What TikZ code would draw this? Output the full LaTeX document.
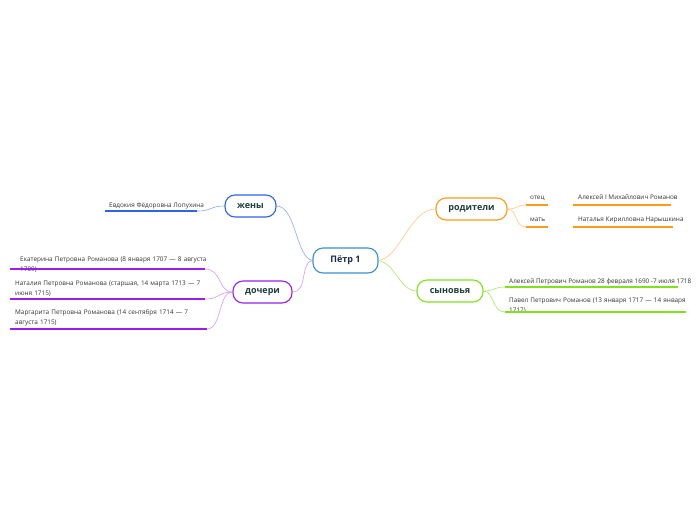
\documentclass[tikz,border=0pt]{standalone}
\usepackage{fontspec}
\setmainfont{Open Sans}
\definecolor{cblue}{HTML}{3A8ED8}
\definecolor{wblue}{HTML}{2E63EC}
\definecolor{porange}{HTML}{FF9A1A}
\definecolor{sgreen}{HTML}{7FE21C}
\definecolor{dpurple}{HTML}{9A1FEF}
\definecolor{ntext}{HTML}{1E3F3C}
\definecolor{ctext}{HTML}{1C2B4A}
\definecolor{ltext}{HTML}{333333}
\begin{document}
\begin{tikzpicture}[x=1pt,y=-1pt,
  topic/.style={draw=#1,line width=1.1pt,rounded corners=10pt,fill=white,
    font=\fontsize{9}{10}\selectfont\bfseries,text=ntext,inner sep=0pt},
  leaf/.style={font=\fontsize{6.4}{9.6}\selectfont,text=ltext,inner sep=0pt,anchor=base west,align=left},
  uline/.style={draw=#1,line width=1.6pt},
  conn/.style={draw=#1,line width=0.6pt}]
\useasboundingbox (0,0) rectangle (696,520);
% central
\node[topic=cblue,text=ctext,minimum width=65pt,minimum height=25pt] (root) at (345.5,260.5) {Пётр 1};
% main topics
\node[topic=wblue,minimum width=51pt,minimum height=22pt] (zheny) at (250.5,206) {жены};
\node[topic=porange,minimum width=71pt,minimum height=22pt] (rod) at (471.5,209) {родители};
\node[topic=sgreen,minimum width=66pt,minimum height=22pt] (syn) at (450,291) {сыновья};
\node[topic=dpurple,minimum width=59pt,minimum height=22pt] (doch) at (262.5,292) {дочери};
% root connectors
\draw[conn=wblue!55] (root.west) .. controls (296,258) and (296,206) .. (zheny.east);
\draw[conn=dpurple!45] (root.west) .. controls (300,262) and (308,292) .. (doch.east);
\draw[conn=porange!55] (root.east) .. controls (400,258) and (410,209) .. (rod.west);
\draw[conn=sgreen!70] (root.east) .. controls (396,264) and (400,291) .. (syn.west);
% жены leaf
\node[leaf] (evd) at (109,207.5) {Евдокия Фёдоровна Лопухина};
\coordinate (evdL) at (105,211);
\coordinate (evdR) at (197,211);
\draw[uline=wblue] (evdL) -- (evdR);
\draw[conn=wblue!55] (zheny.west) .. controls (210,206) and (212,211) .. (evdR);
% родители leaves
\node[leaf] (otec) at (530,199.5) {отец};
\coordinate (otecL) at (526,205); \coordinate (otecR) at (548,205);
\draw[uline=porange] (otecL) -- (otecR);
\node[leaf] (aleks) at (578,199.5) {Алексей I Михайлович Романов};
\coordinate (aleksL) at (573,205); \coordinate (aleksR) at (671,205);
\draw[uline=porange] (aleksL) -- (aleksR);
\node[leaf] (mat) at (530,221.5) {мать};
\coordinate (matL) at (526,227); \coordinate (matR) at (548,227);
\draw[uline=porange] (matL) -- (matR);
\node[leaf] (nat) at (578,221.5) {Наталья Кирилловна Нарышкина};
\coordinate (natL) at (573,227); \coordinate (natR) at (673,227);
\draw[uline=porange] (natL) -- (natR);
\draw[conn=porange!55] (rod.east) .. controls (518,209) and (516,205) .. (otecL);
\draw[conn=porange!55] (rod.east) .. controls (518,209) and (514,227) .. (matL);
% сыновья leaves
\node[leaf] (alp) at (509,283.5) {Алексей Петрович Романов 28 февраля 1690 -7 июля 1718};
\coordinate (alpL) at (505,287); \coordinate (alpR) at (678,287);
\draw[uline=sgreen] (alpL) -- (alpR);
\node[leaf,text width=182pt] (pav) at (509,302.5) {Павел Петрович Романов (13 января 1717 — 14 января 1717)};
\coordinate (pavL) at (505,312); \coordinate (pavR) at (686,312);
\draw[uline=sgreen] (pavL) -- (pavR);
\draw[conn=sgreen!70] (syn.east) .. controls (494,291) and (494,287) .. (alpL);
\draw[conn=sgreen!70] (syn.east) .. controls (494,291) and (492,312) .. (pavL);
% дочери leaves
\node[leaf,text width=190pt] (ekat) at (20,261.5) {Екатерина Петровна Романова (8 января 1707 — 8 августа\\ 1709)};
\coordinate (ekatL) at (10,269); \coordinate (ekatR) at (205,269);
\draw[uline=dpurple] (ekatL) -- (ekatR);
\node[leaf,text width=190pt] (nata) at (15,285.5) {Наталия Петровна Романова (старшая, 14 марта 1713 — 7 июня 1715)};
\coordinate (nataL) at (10,299); \coordinate (nataR) at (205,299);
\draw[uline=dpurple] (nataL) -- (nataR);
\node[leaf,text width=190pt] (marg) at (15,314.5) {Маргарита Петровна Романова (14 сентября 1714 — 7 августа 1715)};
\coordinate (margL) at (10,329); \coordinate (margR) at (207,329);
\draw[uline=dpurple] (margL) -- (margR);
\draw[conn=dpurple!45] (doch.west) .. controls (218,292) and (222,269) .. (ekatR);
\draw[conn=dpurple!45] (doch.west) .. controls (218,292) and (220,299) .. (nataR);
\draw[conn=dpurple!45] (doch.west) .. controls (218,292) and (222,329) .. (margR);
\end{tikzpicture}
\end{document}
